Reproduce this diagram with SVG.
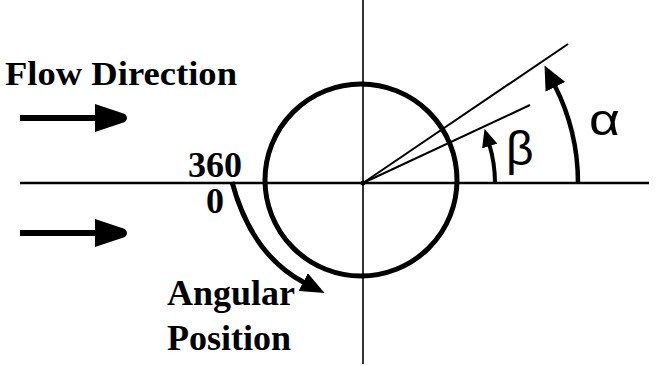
<svg xmlns="http://www.w3.org/2000/svg" width="656" height="366" viewBox="0 0 656 366">
<style>
.bg{fill:#fff}
.axis{stroke:#000;fill:none}
.ray{stroke:#000;stroke-width:2;fill:none}
.thick{stroke:#000;fill:none;stroke-linecap:butt}
.lbl{font-family:"Liberation Serif","Times New Roman",serif;font-weight:bold;fill:#000}
.greek{font-family:"Liberation Sans",Arial,sans-serif;fill:#000}
</style>
<defs>
<marker id="headA" viewBox="0 0 24 22" refX="2" refY="11" markerWidth="24" markerHeight="22" markerUnits="userSpaceOnUse" orient="auto">
<path d="M0,0 L24,11 L0,22 z" fill="#000"/>
</marker>
<marker id="headB" viewBox="0 0 18 16" refX="2" refY="8" markerWidth="18" markerHeight="16" markerUnits="userSpaceOnUse" orient="auto">
<path d="M0,0 L18,8 L0,16 z" fill="#000"/>
</marker>
<marker id="headC" viewBox="0 0 24 20" refX="2" refY="10" markerWidth="24" markerHeight="20" markerUnits="userSpaceOnUse" orient="auto">
<path d="M0,0 L24,10 L0,20 z" fill="#000"/>
</marker>
<marker id="headF" viewBox="0 0 34 28" refX="1" refY="14" markerWidth="34" markerHeight="28" markerUnits="userSpaceOnUse" orient="auto">
<path d="M0,0 L30,10 Q34,14 30,18 L0,28 z" fill="#000"/>
</marker>
</defs>
<rect class="bg" x="0" y="0" width="656" height="366"/>
<g id="axes">
<line class="axis" x1="20" y1="183" x2="649" y2="183" stroke-width="2.5"/>
<line class="axis" x1="363" y1="0" x2="363" y2="364" stroke-width="1.6"/>
<circle cx="363" cy="183" r="2.5" fill="#000"/>
</g>
<g id="cylinder">
<circle cx="361" cy="180" r="96" fill="none" stroke="#000" stroke-width="5"/>
</g>
<g id="rays">
<line class="ray" x1="363" y1="183" x2="568" y2="44"/>
<line class="ray" x1="363" y1="183" x2="530" y2="105"/>
</g>
<g id="connectors">
<path class="thick" stroke-width="4.5" d="M578 183 A216 216 0 0 0 554.5 85" marker-end="url(#headA)"/>
<path class="thick" stroke-width="4" d="M495 183 A133 133 0 0 0 489.2 144.1" marker-end="url(#headB)"/>
<path class="thick" stroke-width="5" d="M232 182 C245 230 268 264 305 283" marker-end="url(#headC)"/>
<line class="thick" stroke-width="6" x1="20" y1="118" x2="96" y2="118" stroke-linecap="round" marker-end="url(#headF)"/>
<line class="thick" stroke-width="6" x1="20" y1="233" x2="96" y2="233" stroke-linecap="round" marker-end="url(#headF)"/>
</g>
<g id="labels">
<text class="lbl" x="5" y="85" font-size="34" textLength="232" lengthAdjust="spacingAndGlyphs">Flow Direction</text>
<text class="lbl" x="188" y="177" font-size="36">360</text>
<text class="lbl" x="206" y="213" font-size="36">0</text>
<text class="lbl" x="167" y="305" font-size="36">Angular</text>
<text class="lbl" x="167" y="350" font-size="36">Position</text>
<text class="greek" x="589" y="135" font-size="44" textLength="31" lengthAdjust="spacingAndGlyphs">α</text>
<text class="greek" x="506" y="165" font-size="48">β</text>
</g>
</svg>
